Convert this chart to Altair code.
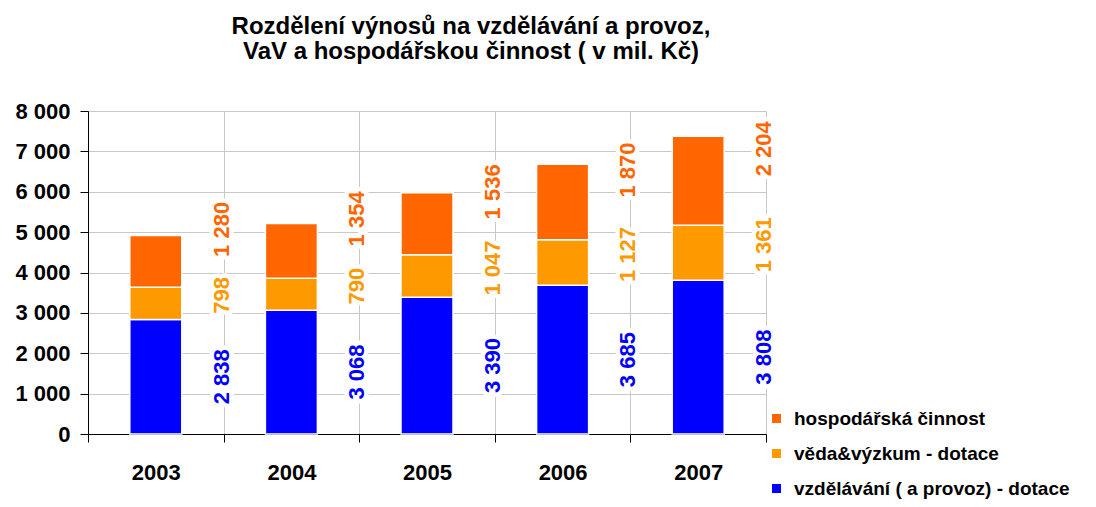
import altair as alt
import pandas as pd

years = ["2003", "2004", "2005", "2006", "2007"]
vzdelavani = [2838, 3068, 3390, 3685, 3808]
veda = [798, 790, 1047, 1127, 1361]
hospodarska = [1280, 1354, 1536, 1870, 2204]

series_names = ["hospodářská činnost", "věda&výzkum - dotace", "vzdělávání ( a provoz) - dotace"]
series_colors = ["#FF6600", "#FF9900", "#0000FF"]
y_ticks = [0, 1000, 2000, 3000, 4000, 5000, 6000, 7000, 8000]

rows = []
for i, yr in enumerate(years):
    rows.append({"year": yr, "series": series_names[2], "value": vzdelavani[i], "ord": 0})
    rows.append({"year": yr, "series": series_names[1], "value": veda[i], "ord": 1})
    rows.append({"year": yr, "series": series_names[0], "value": hospodarska[i], "ord": 2})
df = pd.DataFrame(rows)

FONT = "Liberation Sans"
GRID = "#C8C8C8"

x_scale = alt.Scale(paddingInner=0, paddingOuter=0)
y_scale = alt.Scale(domain=[0, 8000], nice=False)

bars = alt.Chart(df).mark_bar(size=52, stroke="white", strokeWidth=1.5).encode(
    x=alt.X("year:N", title=None, scale=x_scale, sort=years,
            axis=alt.Axis(tickBand="extent", grid=True, gridColor=GRID, gridWidth=1,
                          domainColor="black", tickColor="black", tickSize=8,
                          labelAngle=0, labelFont=FONT, labelFontSize=22, labelFontWeight="bold",
                          labelColor="black", labelPadding=20, labelBaseline="top")),
    y=alt.Y("value:Q", stack="zero", title=None, scale=y_scale,
            axis=alt.Axis(values=y_ticks, grid=True, gridColor=GRID, gridWidth=1,
                          domainColor="black", tickColor="black", tickSize=8,
                          labelFont=FONT, labelFontSize=22, labelFontWeight="bold",
                          labelColor="black", labelPadding=10,
                          labelExpr="replace(format(datum.value, ','), ',', ' ')")),
    color=alt.Color("series:N", scale=alt.Scale(domain=series_names, range=series_colors),
                    legend=alt.Legend(title=None, orient="none", legendX=679, legendY=298,
                                      symbolType="square", symbolSize=81, symbolStrokeWidth=0,
                                      labelFont=FONT, labelFontSize=19, labelFontWeight="bold",
                                      labelColor="black", rowPadding=15, padding=0,
                                      labelLimit=400, labelOffset=8)),
    order=alt.Order("ord:Q", sort="ascending"),
)

label_base = alt.Chart(df).transform_stack(
    stack="value", groupby=["year"], as_=["y0", "y1"],
    sort=[alt.SortField("ord", order="ascending")]
).transform_calculate(
    mid="(datum.y0 + datum.y1) / 2",
    txt="replace(format(datum.value, ','), ',', ' ')"
)

label_layers = []
offsets = {series_names[2]: 0, series_names[1]: 8, series_names[0]: 32}
for name, col in zip(series_names, series_colors):
    enc = dict(
        x=alt.X("year:N", sort=years, bandPosition=1, scale=x_scale, title=None),
        y=alt.Y("mid:Q", scale=y_scale, title=None),
        text="txt:N",
    )
    filt = alt.datum.series == name
    halo = label_base.transform_filter(filt).mark_text(
        angle=270, font=FONT, fontSize=22, fontWeight="bold", align="center",
        baseline="middle", dx=offsets[name], dy=-2, stroke="white", strokeWidth=9,
        strokeJoin="round", fill="white"
    ).encode(**enc)
    txt = label_base.transform_filter(filt).mark_text(
        angle=270, font=FONT, fontSize=22, fontWeight="bold", align="center",
        baseline="middle", dx=offsets[name], dy=-2, color=col
    ).encode(**enc)
    label_layers += [halo, txt]

chart = alt.layer(bars, *label_layers).properties(
    width=678, height=323,
    autosize=alt.AutoSizeParams(type="none"),
    padding={"left": 80, "top": 103, "right": 322, "bottom": 65},
    title=alt.Title(
        ["Rozdělení výnosů na vzdělávání a provoz,", " VaV a hospodářskou činnost ( v mil. Kč)"],
        font=FONT, fontSize=24, fontWeight="bold", color="black",
        anchor="middle", dx=44, lineHeight=25, offset=36,
    ),
).configure_view(stroke=None)

chart.save("out.html", embed_options={"renderer": "svg", "actions": False})
